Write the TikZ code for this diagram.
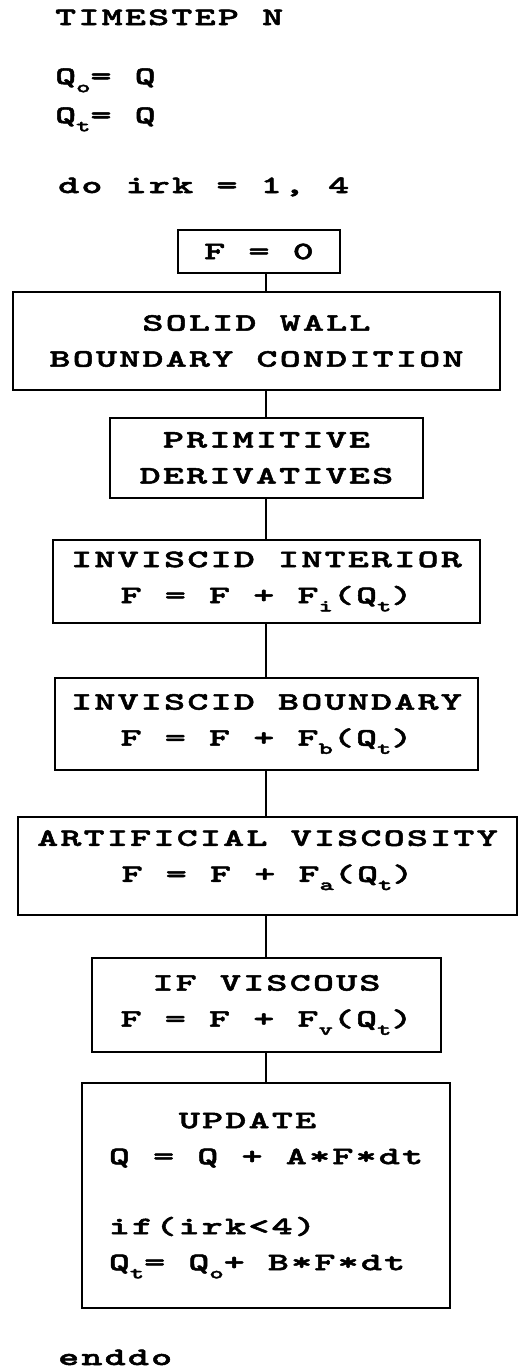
\documentclass[tikz,border=0pt]{standalone}
\usepackage{fontspec}
\newfontfamily\cf{lmmonolt10-bold.otf}[FakeStretch=1.6,LetterSpace=9,FakeBold=2]
\newcommand\lsub[1]{\raisebox{-0.33em}{\fontsize{17}{17}\selectfont #1}}
\tikzset{
  txt/.style={font={\cf\fontsize{25}{36}\selectfont}, inner sep=0pt},
  box/.style={draw, line width=1.6pt, align=center, inner sep=0pt,
              font={\cf\fontsize{25}{36}\selectfont}},
  conn/.style={draw, line width=1.6pt}
}
\begin{document}
\begin{tikzpicture}[x=1pt,y=-1pt]
\useasboundingbox (0,0) rectangle (518,1369);
\coordinate (spine) at (266,0);
\node[txt,anchor=base west] (ts) at (55,25) {TIMESTEP N};
\node[txt,anchor=base west] (qo) at (55,84) {Q\lsub{o}= Q};
\node[txt,anchor=base west] (qt) at (55,123) {Q\lsub{t}= Q};
\node[txt,anchor=base west] (do) at (58,193) {do irk = 1, 4};

\node[box, minimum width=162pt, minimum height=43pt] (f0) at (259,251.5) {F = 0};
\node[box, minimum width=487pt, minimum height=98pt] (solid) at (256.5,341) {SOLID WALL\\BOUNDARY CONDITION};
\node[box, minimum width=313pt, minimum height=80pt] (prim) at (266.5,458) {PRIMITIVE\\DERIVATIVES};
\node[box, minimum width=427pt, minimum height=83pt] (intr) at (266.5,581.5) {INVISCID INTERIOR\\F = F + F\lsub{i}(Q\lsub{t})};
\node[box, minimum width=423pt, minimum height=92pt] (bnd) at (266.5,724) {INVISCID BOUNDARY\\F = F + F\lsub{b}(Q\lsub{t})};
\node[box, minimum width=499pt, minimum height=98pt, text depth=20pt] (art) at (267.5,866) {ARTIFICIAL VISCOSITY\\F = F + F\lsub{a}(Q\lsub{t})};
\node[box, minimum width=349pt, minimum height=94pt] (visc) at (266.5,1005) {IF VISCOUS\\F = F + F\lsub{v}(Q\lsub{t})};
\node[box, align=left, minimum width=368pt, minimum height=225pt] (upd) at (266,1195.5)
  {\hspace*{70pt}UPDATE\\Q = Q + A*F*dt\\[34pt]if(irk<4)\\Q\lsub{t}= Q\lsub{o}+ B*F*dt};

\node[txt,anchor=base west] (enddo) at (58,1365) {enddo};

\foreach \a/\b in {f0/solid, solid/prim, prim/intr, intr/bnd, bnd/art, art/visc, visc/upd}
  \draw[conn] (\a.south -| spine) -- (\b.north -| spine);
\end{tikzpicture}
\end{document}
